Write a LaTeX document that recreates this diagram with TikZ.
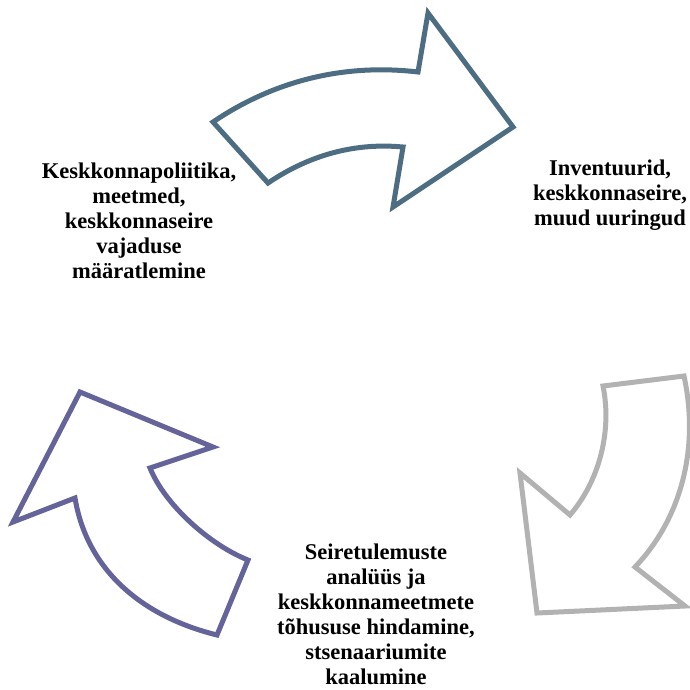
\documentclass[tikz,border=0pt]{standalone}
\usepackage{fontspec}
\setmainfont{Liberation Serif}
\usetikzlibrary{positioning}
\definecolor{arrowblue}{RGB}{77,109,130}
\definecolor{arrowgray}{RGB}{178,178,178}
\definecolor{arrowpurple}{RGB}{100,99,154}
\tikzset{
  cyclearrow/.style={line width=5pt,fill=white,line join=miter},
  steptext/.style={font=\fontsize{22.5}{25}\selectfont\bfseries,align=center,inner sep=0pt}
}

\begin{document}
\begin{tikzpicture}[x=1pt,y=-1pt]
\useasboundingbox (0,0) rectangle (690,689);
% top arrow
\draw[cyclearrow,draw=arrowblue] (213,122) -- (268,183) .. controls (305,158) and (350,142) .. (403,147) -- (393,207) -- (513,127) -- (428,13) -- (418,72) .. controls (342,63) and (272,82) .. (213,122) -- cycle;
% right arrow
\draw[cyclearrow,draw=arrowgray] (603,386) -- (684,376) .. controls (700,450) and (680,520) .. (635,567) -- (685,606) -- (537,613) -- (520,473) -- (570,515) .. controls (600,480) and (612,430) .. (603,386) -- cycle;
% left arrow
\draw[cyclearrow,draw=arrowpurple] (217,635) -- (248,560) .. controls (210,545) and (165,505) .. (150,468) -- (213,447) -- (80,392) -- (13,522) -- (75,498) .. controls (86,565) and (136,615) .. (217,635) -- cycle;
\node[steptext] (policy) at (139,221) {Keskkonnapoliitika,\\meetmed,\\keskkonnaseire\\vajaduse\\määratlemine};
\node[steptext] (inventory) at (610,195) {Inventuurid,\\keskkonnaseire,\\muud uuringud};
\node[steptext] (analysis) at (376,614) {Seiretulemuste\\analüüs ja\\keskkonnameetmete\\tõhususe hindamine,\\stsenaariumite\\kaalumine};
\end{tikzpicture}
\end{document}
